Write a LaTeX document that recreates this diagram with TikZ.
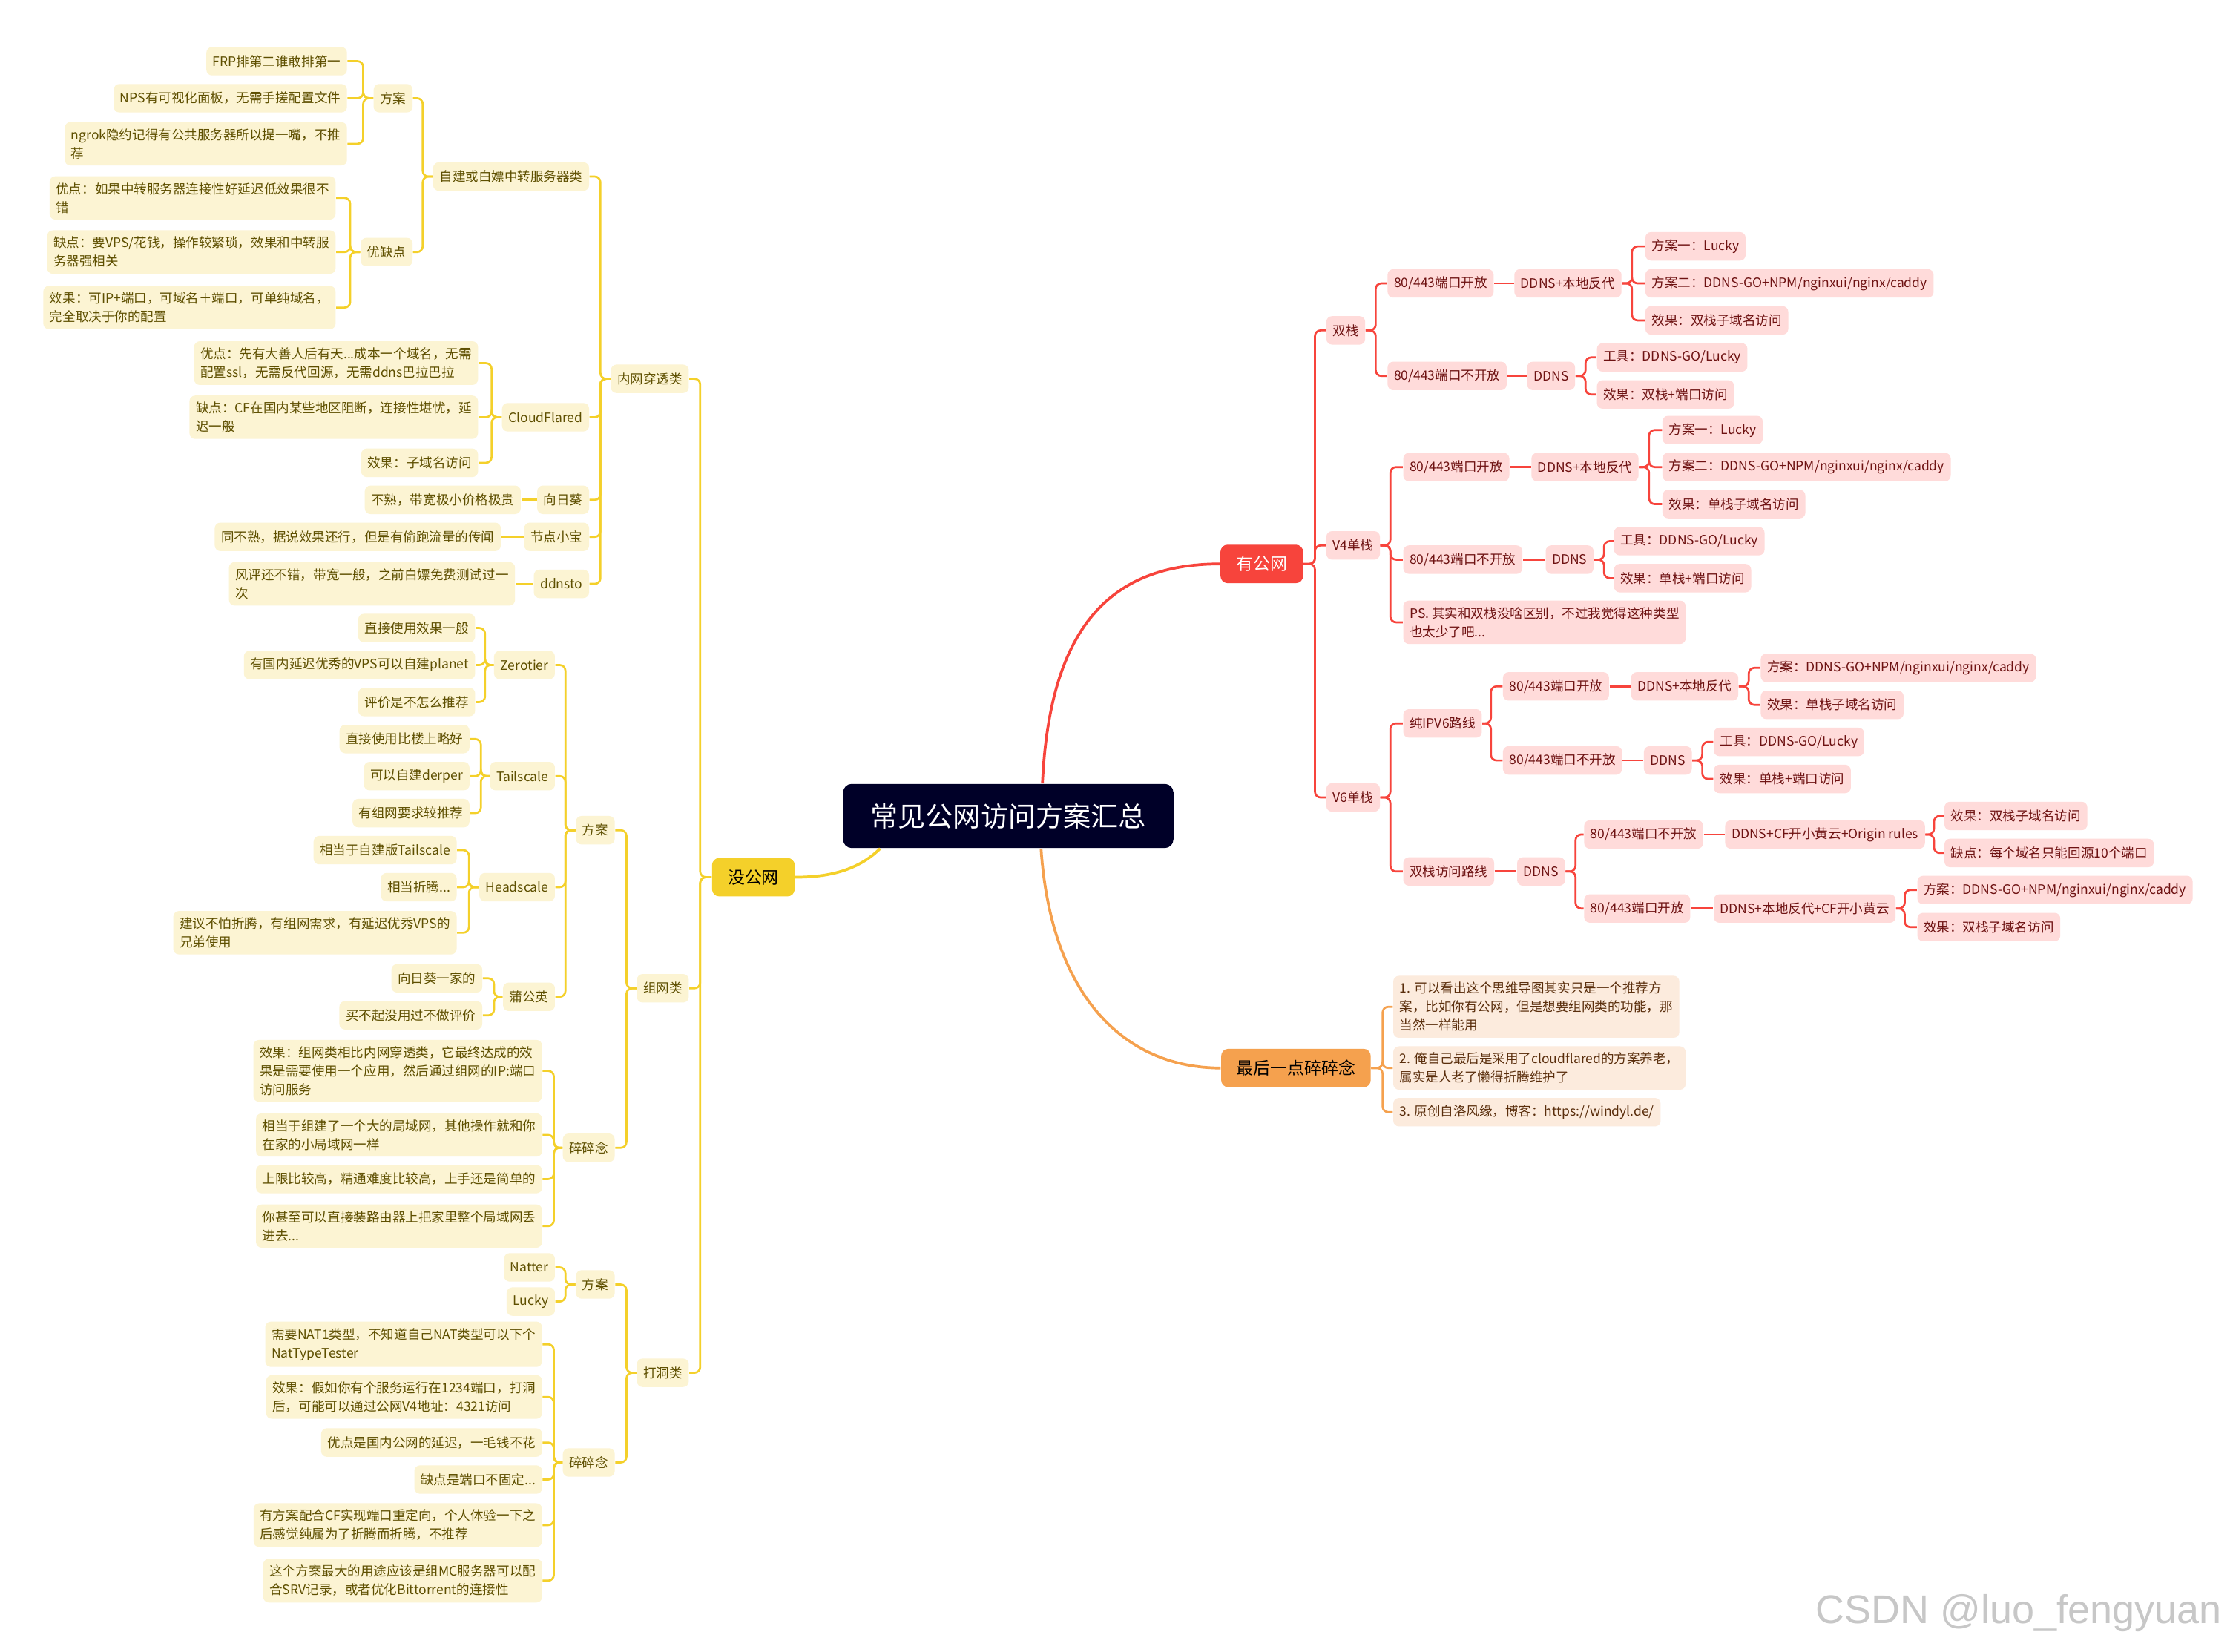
\documentclass[tikz,border=0pt]{standalone}
\usepackage{fontspec}
\setmainfont{Noto Sans CJK SC}
\newfontfamily\markfont{Liberation Sans}
\usetikzlibrary{positioning}
\definecolor{rootnavy}{HTML}{000028}
\definecolor{ygold}{HTML}{F4D02A}
\definecolor{ypale}{HTML}{FCF4D3}
\definecolor{yink}{HTML}{5E4F00}
\definecolor{rred}{HTML}{F7443C}
\definecolor{rpale}{HTML}{FFDBDA}
\definecolor{rink}{HTML}{6E1212}
\definecolor{oorange}{HTML}{F5A14E}
\definecolor{opale}{HTML}{FCEBDD}
\definecolor{oink}{HTML}{5A2E0C}

\begin{document}
\begin{tikzpicture}[x=0.02cm, y=-0.02cm,
    leaf/.style={rounded corners=0.08cm, inner xsep=0.09cm, inner ysep=0.09cm,
                 minimum height=0.4cm, align=left, font=\fontsize{5.2}{7.4}\selectfont},
    yleaf/.style={leaf, fill=ypale, text=yink, anchor=east},
    rleaf/.style={leaf, fill=rpale, text=rink, anchor=west},
    oleaf/.style={leaf, fill=opale, text=oink, anchor=west},
    topic/.style={rounded corners=0.1cm, minimum width=1.16cm, minimum height=0.54cm,
                  font=\fontsize{6.8}{8}\selectfont},
    rootbox/.style={fill=rootnavy, text=white, rounded corners=0.12cm, minimum width=4.64cm,
                    minimum height=0.9cm, font=\fontsize{11}{13}\selectfont},
    ylink/.style={draw=ygold, line width=0.8pt, rounded corners=0.08cm},
    rlink/.style={draw=rred, line width=0.8pt, rounded corners=0.08cm},
    olink/.style={draw=oorange, line width=0.8pt, rounded corners=0.08cm},
    trunk/.style={line width=1.1pt},
]
    \fill[white] (0,0) rectangle (1568,1160);
    \useasboundingbox (0,0) rectangle (1568,1160);

    % centre and the three main topics
    \node[rootbox] (root) at (708,573) {常见公网访问方案汇总};
    \node[topic, fill=rred, text=white] (pub) at (886,396) {有公网};
    \node[topic, fill=ygold, text=black] (nopub) at (529,616) {没公网};
    \node[topic, fill=oorange, text=black, minimum width=2.1cm] (last) at (910,750) {最后一点碎碎念};

    \draw[rred, trunk] ([xshift=0.48cm]root.north) .. controls (737,440) and (780,396) .. (pub.west);
    \draw[oorange, trunk] ([xshift=0.46cm]root.south) .. controls (738,700) and (790,750) .. (last.west);
    \draw[ygold, trunk] ([xshift=-1.8cm]root.south) .. controls (600,614) and (575,616) .. (nopub.east);

    % ---- 没公网 ----
    \node[yleaf] (nat) at (484,266) {内网穿透类};
    \node[yleaf] (mesh) at (484,694) {组网类};
    \node[yleaf] (hole) at (484,964) {打洞类};

    \node[yleaf] (relay) at (414,124) {自建或白嫖中转服务器类};
    \node[yleaf] (cf) at (414,293) {CloudFlared};
    \node[yleaf] (sun) at (414,351) {向日葵};
    \node[yleaf] (jdxb) at (414,377) {节点小宝};
    \node[yleaf] (ddnsto) at (414,410) {ddnsto};

    \node[yleaf] (relayplan) at (290,69) {方案};
    \node[yleaf] (relaypc) at (290,177) {优缺点};
    \node[yleaf] (frp) at (244,43) {FRP排第二谁敢排第一};
    \node[yleaf] (nps) at (244,69) {NPS有可视化面板，无需手搓配置文件};
    \node[yleaf] (ngrok) at (244,101) {ngrok隐约记得有公共服务器所以提一嘴，不推\\荐};
    \node[yleaf] (relaypro) at (236,139) {优点：如果中转服务器连接性好延迟低效果很不\\错};
    \node[yleaf] (relaycon) at (236,177) {缺点：要VPS/花钱，操作较繁琐，效果和中转服\\务器强相关};
    \node[yleaf] (relayeff) at (236,216) {效果：可IP+端口，可域名＋端口，可单纯域名，\\完全取决于你的配置};

    \node[yleaf] (cfpro) at (336,255) {优点：先有大善人后有天...成本一个域名，无需\\配置ssl，无需反代回源，无需ddns巴拉巴拉};
    \node[yleaf] (cfcon) at (336,293) {缺点：CF在国内某些地区阻断，连接性堪忧，延\\迟一般};
    \node[yleaf] (cfeff) at (336,325) {效果：子域名访问};
    \node[yleaf] (sunnote) at (366,351) {不熟，带宽极小价格极贵};
    \node[yleaf] (jdxbnote) at (352,377) {同不熟，据说效果还行，但是有偷跑流量的传闻};
    \node[yleaf] (ddnstonote) at (362,410) {风评还不错，带宽一般，之前白嫖免费测试过一\\次};

    \node[yleaf] (meshplan) at (432,583) {方案};
    \node[yleaf] (meshtalk) at (432,806) {碎碎念};
    \node[yleaf] (zt) at (390,467) {Zerotier};
    \node[yleaf] (ts) at (390,545) {Tailscale};
    \node[yleaf] (hs) at (390,623) {Headscale};
    \node[yleaf] (pgy) at (390,700) {蒲公英};
    \node[yleaf] (zt1) at (334,441) {直接使用效果一般};
    \node[yleaf] (zt2) at (334,467) {有国内延迟优秀的VPS可以自建planet};
    \node[yleaf] (zt3) at (334,493) {评价是不怎么推荐};
    \node[yleaf] (ts1) at (330,519) {直接使用比楼上略好};
    \node[yleaf] (ts2) at (330,545) {可以自建derper};
    \node[yleaf] (ts3) at (330,571) {有组网要求较推荐};
    \node[yleaf] (hs1) at (321,597) {相当于自建版Tailscale};
    \node[yleaf] (hs2) at (321,623) {相当折腾...};
    \node[yleaf] (hs3) at (321,655) {建议不怕折腾，有组网需求，有延迟优秀VPS的\\兄弟使用};
    \node[yleaf] (pgy1) at (339,687) {向日葵一家的};
    \node[yleaf] (pgy2) at (339,713) {买不起没用过不做评价};
    \node[yleaf] (mt1) at (381,752) {效果：组网类相比内网穿透类，它最终达成的效\\果是需要使用一个应用，然后通过组网的IP:端口\\访问服务};
    \node[yleaf] (mt2) at (381,797) {相当于组建了一个大的局域网，其他操作就和你\\在家的小局域网一样};
    \node[yleaf] (mt3) at (381,828) {上限比较高，精通难度比较高，上手还是简单的};
    \node[yleaf] (mt4) at (381,861) {你甚至可以直接装路由器上把家里整个局域网丢\\进去...};

    \node[yleaf] (holeplan) at (432,902) {方案};
    \node[yleaf] (holetalk) at (432,1027) {碎碎念};
    \node[yleaf] (natter) at (390,890) {Natter};
    \node[yleaf] (lucky) at (390,914) {Lucky};
    \node[yleaf] (ht1) at (381,944) {需要NAT1类型，不知道自己NAT类型可以下个\\NatTypeTester};
    \node[yleaf] (ht2) at (381,981) {效果：假如你有个服务运行在1234端口，打洞\\后，可能可以通过公网V4地址：4321访问};
    \node[yleaf] (ht3) at (381,1013) {优点是国内公网的延迟，一毛钱不花};
    \node[yleaf] (ht4) at (381,1039) {缺点是端口不固定...};
    \node[yleaf] (ht5) at (381,1071) {有方案配合CF实现端口重定向，个人体验一下之\\后感觉纯属为了折腾而折腾，不推荐};
    \node[yleaf] (ht6) at (381,1110) {这个方案最大的用途应该是组MC服务器可以配\\合SRV记录，或者优化Bittorrent的连接性};

    \foreach \ch in {nat,mesh,hole} \draw[ylink] (nopub.west) -- ++(-8,0) |- (\ch.east);
    \foreach \ch in {relay,cf,sun,jdxb,ddnsto} \draw[ylink] (nat.west) -- ++(-7,0) |- (\ch.east);
    \foreach \ch in {relayplan,relaypc} \draw[ylink] (relay.west) -- ++(-7,0) |- (\ch.east);
    \foreach \ch in {frp,nps,ngrok} \draw[ylink] (relayplan.west) -- ++(-7,0) |- (\ch.east);
    \foreach \ch in {relaypro,relaycon,relayeff} \draw[ylink] (relaypc.west) -- ++(-7,0) |- (\ch.east);
    \foreach \ch in {cfpro,cfcon,cfeff} \draw[ylink] (cf.west) -- ++(-7,0) |- (\ch.east);
    \draw[ylink] (sun.west) -- (sunnote.east);
    \draw[ylink] (jdxb.west) -- (jdxbnote.east);
    \draw[ylink] (ddnsto.west) -- (ddnstonote.east);
    \foreach \ch in {meshplan,meshtalk} \draw[ylink] (mesh.west) -- ++(-7,0) |- (\ch.east);
    \foreach \ch in {zt,ts,hs,pgy} \draw[ylink] (meshplan.west) -- ++(-7,0) |- (\ch.east);
    \foreach \ch in {zt1,zt2,zt3} \draw[ylink] (zt.west) -- ++(-6,0) |- (\ch.east);
    \foreach \ch in {ts1,ts2,ts3} \draw[ylink] (ts.west) -- ++(-6,0) |- (\ch.east);
    \foreach \ch in {hs1,hs2,hs3} \draw[ylink] (hs.west) -- ++(-7,0) |- (\ch.east);
    \foreach \ch in {pgy1,pgy2} \draw[ylink] (pgy.west) -- ++(-6,0) |- (\ch.east);
    \foreach \ch in {mt1,mt2,mt3,mt4} \draw[ylink] (meshtalk.west) -- ++(-6,0) |- (\ch.east);
    \foreach \ch in {holeplan,holetalk} \draw[ylink] (hole.west) -- ++(-7,0) |- (\ch.east);
    \foreach \ch in {natter,lucky} \draw[ylink] (holeplan.west) -- ++(-7,0) |- (\ch.east);
    \foreach \ch in {ht1,ht2,ht3,ht4,ht5,ht6} \draw[ylink] (holetalk.west) -- ++(-6,0) |- (\ch.east);

    % ---- 有公网 ----
    \node[rleaf] (ds) at (931,232) {双栈};
    \node[rleaf] (v4) at (931,383) {V4单栈};
    \node[rleaf] (v6) at (931,560) {V6单栈};

    \node[rleaf] (ds80) at (974,199) {80/443端口开放};
    \node[rleaf] (dsno) at (974,264) {80/443端口不开放};
    \node[rleaf] (dsrp) at (1063,199) {DDNS+本地反代};
    \node[rleaf] (dsrp1) at (1155,173) {方案一：Lucky};
    \node[rleaf] (dsrp2) at (1155,199) {方案二：DDNS-GO+NPM/nginxui/nginx/caddy};
    \node[rleaf] (dsrp3) at (1155,225) {效果：双栈子域名访问};
    \node[rleaf] (dsddns) at (1072,264) {DDNS};
    \node[rleaf] (dsd1) at (1121,251) {工具：DDNS-GO/Lucky};
    \node[rleaf] (dsd2) at (1121,277) {效果：双栈+端口访问};

    \node[rleaf] (v480) at (985,328) {80/443端口开放};
    \node[rleaf] (v4no) at (985,393) {80/443端口不开放};
    \node[rleaf] (v4ps) at (985,437) {PS. 其实和双栈没啥区别，不过我觉得这种类型\\也太少了吧...};
    \node[rleaf] (v4rp) at (1075,328) {DDNS+本地反代};
    \node[rleaf] (v4rp1) at (1167,302) {方案一：Lucky};
    \node[rleaf] (v4rp2) at (1167,328) {方案二：DDNS-GO+NPM/nginxui/nginx/caddy};
    \node[rleaf] (v4rp3) at (1167,354) {效果：单栈子域名访问};
    \node[rleaf] (v4ddns) at (1085,393) {DDNS};
    \node[rleaf] (v4d1) at (1133,380) {工具：DDNS-GO/Lucky};
    \node[rleaf] (v4d2) at (1133,406) {效果：单栈+端口访问};

    \node[rleaf] (v6pure) at (985,508) {纯IPV6路线};
    \node[rleaf] (v6dual) at (985,612) {双栈访问路线};
    \node[rleaf] (p80) at (1055,482) {80/443端口开放};
    \node[rleaf] (pno) at (1055,534) {80/443端口不开放};
    \node[rleaf] (prp) at (1145,482) {DDNS+本地反代};
    \node[rleaf] (prp1) at (1236,469) {方案：DDNS-GO+NPM/nginxui/nginx/caddy};
    \node[rleaf] (prp2) at (1236,495) {效果：单栈子域名访问};
    \node[rleaf] (pddns) at (1154,534) {DDNS};
    \node[rleaf] (pd1) at (1203,521) {工具：DDNS-GO/Lucky};
    \node[rleaf] (pd2) at (1203,547) {效果：单栈+端口访问};
    \node[rleaf] (dddns) at (1065,612) {DDNS};
    \node[rleaf] (dno) at (1112,586) {80/443端口不开放};
    \node[rleaf] (d80) at (1112,638) {80/443端口开放};
    \node[rleaf] (dcf) at (1211,586) {DDNS+CF开小黄云+Origin rules};
    \node[rleaf] (dcf1) at (1365,573) {效果：双栈子域名访问};
    \node[rleaf] (dcf2) at (1365,599) {缺点：每个域名只能回源10个端口};
    \node[rleaf] (drp) at (1203,638) {DDNS+本地反代+CF开小黄云};
    \node[rleaf] (drp1) at (1346,625) {方案：DDNS-GO+NPM/nginxui/nginx/caddy};
    \node[rleaf] (drp2) at (1346,651) {效果：双栈子域名访问};

    \foreach \ch in {ds,v4,v6} \draw[rlink] (pub.east) -- ++(8,0) |- (\ch.west);
    \foreach \ch in {ds80,dsno} \draw[rlink] (ds.east) -- ++(7,0) |- (\ch.west);
    \draw[rlink] (ds80.east) -- (dsrp.west);
    \foreach \ch in {dsrp1,dsrp2,dsrp3} \draw[rlink] (dsrp.east) -- ++(7,0) |- (\ch.west);
    \draw[rlink] (dsno.east) -- (dsddns.west);
    \foreach \ch in {dsd1,dsd2} \draw[rlink] (dsddns.east) -- ++(7,0) |- (\ch.west);
    \foreach \ch in {v480,v4no,v4ps} \draw[rlink] (v4.east) -- ++(7,0) |- (\ch.west);
    \draw[rlink] (v480.east) -- (v4rp.west);
    \foreach \ch in {v4rp1,v4rp2,v4rp3} \draw[rlink] (v4rp.east) -- ++(7,0) |- (\ch.west);
    \draw[rlink] (v4no.east) -- (v4ddns.west);
    \foreach \ch in {v4d1,v4d2} \draw[rlink] (v4ddns.east) -- ++(7,0) |- (\ch.west);
    \foreach \ch in {v6pure,v6dual} \draw[rlink] (v6.east) -- ++(7,0) |- (\ch.west);
    \foreach \ch in {p80,pno} \draw[rlink] (v6pure.east) -- ++(6,0) |- (\ch.west);
    \draw[rlink] (p80.east) -- (prp.west);
    \foreach \ch in {prp1,prp2} \draw[rlink] (prp.east) -- ++(7,0) |- (\ch.west);
    \draw[rlink] (pno.east) -- (pddns.west);
    \foreach \ch in {pd1,pd2} \draw[rlink] (pddns.east) -- ++(7,0) |- (\ch.west);
    \draw[rlink] (v6dual.east) -- (dddns.west);
    \foreach \ch in {dno,d80} \draw[rlink] (dddns.east) -- ++(7,0) |- (\ch.west);
    \draw[rlink] (dno.east) -- (dcf.west);
    \foreach \ch in {dcf1,dcf2} \draw[rlink] (dcf.east) -- ++(6,0) |- (\ch.west);
    \draw[rlink] (d80.east) -- (drp.west);
    \foreach \ch in {drp1,drp2} \draw[rlink] (drp.east) -- ++(6,0) |- (\ch.west);

    % ---- 最后一点碎碎念 ----
    \node[oleaf] (last1) at (978,707) {1. 可以看出这个思维导图其实只是一个推荐方\\案，比如你有公网，但是想要组网类的功能，那\\当然一样能用};
    \node[oleaf] (last2) at (978,750) {2. 俺自己最后是采用了cloudflared的方案养老，\\属实是人老了懒得折腾维护了};
    \node[oleaf] (last3) at (978,781) {3. 原创自洛风缘，博客：https://windyl.de/};
    \foreach \ch in {last1,last2,last3} \draw[olink] (last.east) -- ++(8,0) |- (\ch.west);

    \node[anchor=east, text=black!22, font=\markfont\fontsize{16}{18}\selectfont] (mark) at (1566,1133) {CSDN @luo\_fengyuan};
\end{tikzpicture}
\end{document}
